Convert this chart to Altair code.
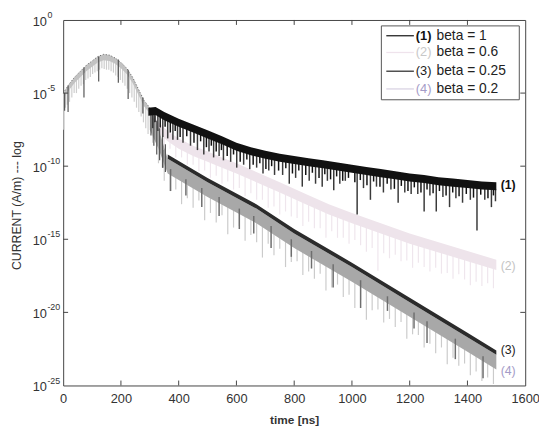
import altair as alt
import pandas as pd

# ---------------- data: log10 of current (A/m) vs time (ns) ----------------
# common rising part (all beta overlap)
common_t = [0, 10, 20, 40, 60, 80, 100, 120, 140, 160, 180, 200, 220, 240, 260, 280, 300]
common_hi = [-5.0, -4.7, -4.4, -3.9, -3.5, -3.1, -2.8, -2.5, -2.35, -2.4, -2.6, -2.9, -3.3, -3.9, -4.7, -5.5, -6.0]
common_lo = [-5.4, -5.1, -4.8, -4.3, -3.9, -3.5, -3.2, -2.9, -2.75, -2.8, -3.0, -3.3, -3.7, -4.3, -5.1, -5.9, -6.4]

common_spk_t = [2, 8, 14, 22, 30, 38, 46, 54, 62, 70, 78, 86, 94, 102, 110, 118, 126, 134, 142, 150,
                158, 166, 174, 182, 190, 198, 206, 214, 222, 230, 238, 246, 254, 262, 270, 278, 286, 294]
common_spk_top = [-5.0, -4.8, -4.6, -4.35, -4.15, -3.95, -3.8, -3.6, -3.45, -3.3, -3.15, -3.0, -2.9, -2.8,
                  -2.65, -2.55, -2.45, -2.4, -2.35, -2.35, -2.4, -2.45, -2.55, -2.6, -2.75, -2.9, -3.0,
                  -3.2, -3.35, -3.6, -3.85, -4.1, -4.45, -4.8, -5.1, -5.4, -5.7, -5.9]
common_spk_bot = [-7.5, -6.0, -5.8, -5.6, -5.3, -5.0, -5.0, -4.7, -4.5, -4.4, -4.1, -4.0, -3.9, -3.7,
                  -3.6, -3.5, -3.4, -3.3, -3.35, -3.4, -3.4, -3.5, -3.6, -3.8, -3.9, -4.1, -4.3, -4.5,
                  -4.7, -5.0, -5.3, -5.6, -6.0, -6.3, -6.6, -7.0, -7.4, -7.8]
common_dk_t = [5, 17, 72, 123, 191, 225, 276]
common_dk_top = [-5.0, -4.5, -3.25, -2.5, -2.7, -3.4, -5.3]
common_dk_bot = [-6.2, -6.3, -5.3, -4.2, -4.3, -5.4, -6.4]

# (1) beta = 1
s1_t = [295, 320, 350, 400, 450, 500, 550, 600, 650, 700, 750, 800, 850, 900, 950, 1000, 1050, 1100,
        1150, 1200, 1250, 1300, 1350, 1400, 1450, 1500]
s1_hi = [-6.0, -5.95, -6.3, -6.75, -7.15, -7.55, -7.95, -8.4, -8.7, -8.95, -9.15, -9.3, -9.45, -9.6,
         -9.75, -9.9, -10.05, -10.2, -10.35, -10.5, -10.6, -10.75, -10.85, -10.95, -11.05, -11.1]
s1_lo = [-6.55, -6.5, -6.85, -7.3, -7.7, -8.1, -8.5, -8.95, -9.25, -9.5, -9.7, -9.85, -10.0, -10.15,
         -10.3, -10.45, -10.6, -10.75, -10.9, -11.05, -11.15, -11.3, -11.4, -11.5, -11.6, -11.65]
s1_spk_t = [310, 328, 345, 362, 380, 396, 415, 441, 465, 487, 505, 521, 540, 555, 580, 601, 625, 646,
            670, 692, 712, 732, 760, 783, 805, 828, 852, 874, 897, 915, 937, 958, 977, 1018, 1040, 1064,
            1085, 1109, 1135, 1160, 1183, 1205, 1228, 1250, 1270, 1292, 1315, 1338, 1360, 1383, 1410,
            1433, 1460, 1483, 1497]
s1_spk_top = [-6.4, -6.5, -6.7, -6.9, -7.05, -7.2, -7.3, -7.5, -7.7, -7.9, -8.0, -8.15, -8.3, -8.45,
              -8.65, -8.85, -9.0, -9.1, -9.25, -9.35, -9.45, -9.5, -9.6, -9.7, -9.75, -9.85, -9.9, -9.95,
              -10.05, -10.1, -10.15, -10.2, -10.3, -10.4, -10.45, -10.5, -10.55, -10.65, -10.7, -10.8,
              -10.85, -10.95, -11.0, -11.05, -11.1, -11.2, -11.25, -11.3, -11.35, -11.4, -11.45, -11.45,
              -11.5, -11.55, -11.55]
s1_spk_bot = [-7.4, -7.6, -8.0, -8.1, -8.2, -8.2, -8.4, -8.6, -8.9, -9.2, -9.0, -9.4, -9.3, -9.6, -9.7,
              -10.1, -9.9, -10.2, -10.1, -10.5, -10.3, -10.6, -10.6, -11.2, -10.8, -11.4, -11.0, -11.2,
              -11.4, -11.0, -11.65, -11.2, -11.0, -13.3, -11.5, -12.3, -11.4, -11.8, -11.6, -12.5, -11.8,
              -11.9, -11.9, -13.1, -12.0, -13.1, -12.1, -12.8, -12.2, -12.5, -12.3, -14.4, -12.3, -12.8,
              -12.4]
s1_sm_t = [318, 336, 353, 371, 388, 405, 428, 453, 476, 496, 513, 530, 548, 568, 590, 613, 636, 658, 681,
           702, 722, 746, 771, 794, 816, 840, 863, 886, 906, 926, 947, 968, 988, 1010, 1029, 1052, 1075,
           1097, 1122, 1147, 1171, 1194, 1216, 1239, 1260, 1281, 1303, 1326, 1349, 1371, 1396, 1421,
           1446, 1471, 1490]
s1_sm_top = [-6.35, -6.55, -6.73, -6.9, -7.05, -7.2, -7.37, -7.57, -7.76, -7.92, -8.05, -8.2, -8.34, -8.5,
             -8.7, -8.88, -9.02, -9.14, -9.25, -9.36, -9.44, -9.53, -9.61, -9.68, -9.75, -9.82, -9.89,
             -9.96, -10.02, -10.08, -10.14, -10.2, -10.26, -10.33, -10.39, -10.46, -10.53, -10.59,
             -10.67, -10.74, -10.81, -10.88, -10.93, -10.98, -11.03, -11.09, -11.16, -11.2, -11.25,
             -11.29, -11.34, -11.39, -11.44, -11.47, -11.49]
s1_sm_bot = [-7.0, -7.35, -7.3, -7.7, -7.6, -8.0, -7.95, -8.4, -8.3, -8.7, -8.6, -9.0, -8.9, -9.3, -9.2,
             -9.7, -9.55, -9.9, -9.8, -10.2, -10.0, -10.3, -10.15, -10.5, -10.3, -10.6, -10.45, -10.8,
             -10.55, -10.9, -10.7, -11.0, -10.8, -11.1, -10.95, -11.3, -11.05, -11.4, -11.2, -11.55,
             -11.35, -11.7, -11.45, -11.8, -11.6, -11.85, -11.7, -12.0, -11.8, -12.05, -11.9, -12.15,
             -11.95, -12.2, -12.0]

# (2) beta = 0.6
s2_t = [300, 330, 362, 400, 450, 500, 550, 600, 669, 750, 840, 920, 1000, 1100, 1200, 1300, 1400, 1500]
s2_hi = [-6.3, -7.0, -7.6, -8.1, -8.6, -9.0, -9.4, -9.8, -10.4, -11.1, -11.9, -12.6, -13.2, -13.9,
         -14.6, -15.2, -15.8, -16.4]
s2_lo = [-7.0, -7.7, -8.3, -8.8, -9.3, -9.7, -10.1, -10.5, -11.1, -11.8, -12.6, -13.3, -13.9, -14.6,
         -15.3, -15.9, -16.5, -17.1]
s2_spk_t = [310, 330, 350, 370, 390, 410, 430, 450, 470, 490, 510, 530, 550, 570, 590, 610, 630, 650,
            670, 690, 710, 730, 750, 770, 790, 810, 830, 850, 870, 890, 910, 930, 950, 970, 990, 1010,
            1030, 1050, 1070, 1090, 1110, 1130, 1150, 1170, 1190, 1210, 1230, 1250, 1270, 1290, 1310,
            1330, 1350, 1370, 1390, 1410, 1430, 1450, 1470, 1490]
s2_spk_top = [-7.0, -7.5, -7.9, -8.2, -8.5, -8.7, -8.9, -9.1, -9.25, -9.4, -9.6, -9.75, -9.9, -10.05,
              -10.2, -10.4, -10.55, -10.75, -10.9, -11.1, -11.25, -11.45, -11.6, -11.8, -11.95, -12.15,
              -12.3, -12.5, -12.65, -12.85, -13.0, -13.15, -13.3, -13.5, -13.6, -13.75, -13.9, -14.05,
              -14.2, -14.35, -14.45, -14.6, -14.75, -14.9, -15.05, -15.15, -15.3, -15.4, -15.5, -15.65,
              -15.75, -15.9, -16.0, -16.1, -16.25, -16.35, -16.5, -16.6, -16.7, -16.85]
s2_spk_bot = [-7.5, -8.2, -8.7, -8.8, -9.4, -9.4, -9.9, -9.9, -10.35, -10.3, -10.8, -10.65, -11.2,
              -11.05, -11.6, -11.5, -12.05, -11.85, -12.3, -12.3, -12.85, -12.75, -13.3, -13.1, -13.45,
              -13.55, -14.1, -13.8, -14.25, -14.25, -14.9, -14.45, -14.9, -14.9, -15.3, -15.05, -15.4,
              -15.85, -15.6, -17.15, -15.95, -16.3, -16.05, -16.5, -16.45, -16.95, -16.6, -16.9, -17.2,
              -16.95, -17.35, -17.3, -17.7, -17.4, -17.75, -18.15, -17.9, -18.2, -18.0, -18.35]

# (3) beta = 0.25
s3_t = [362, 500, 669, 800, 1000, 1200, 1400, 1500]
s3_hi = [-9.2, -10.8, -12.6, -14.3, -16.6, -19.0, -21.4, -22.6]
s3_lo = [-9.5, -11.1, -12.9, -14.6, -16.9, -19.3, -21.7, -22.9]
s3_spk_t = [304, 314, 324, 334, 344, 354]
s3_spk_top = [-6.2, -6.5, -6.9, -7.4, -7.9, -8.5]
s3_spk_bot = [-7.9, -8.6, -9.2, -9.6, -10.1, -10.4]

# (4) beta = 0.2
s4_t = [300, 330, 362, 500, 669, 800, 1000, 1200, 1400, 1500]
s4_hi = [-6.2, -7.4, -9.5, -11.1, -12.9, -14.6, -16.9, -19.3, -21.7, -22.9]
s4_lo = [-7.5, -8.8, -10.5, -12.1, -13.9, -15.6, -17.9, -20.3, -22.7, -23.9]
s4_spk_t = [310, 330, 350, 370, 390, 410, 430, 450, 470, 490, 510, 530, 550, 570, 590, 610, 630, 650,
            670, 690, 710, 730, 750, 770, 790, 810, 830, 850, 870, 890, 910, 930, 950, 970, 990, 1010,
            1030, 1050, 1070, 1090, 1110, 1130, 1150, 1170, 1190, 1210, 1230, 1250, 1270, 1290, 1310,
            1330, 1350, 1370, 1390, 1410, 1430, 1450, 1470, 1490]
s4_spk_top = [-7.2, -8.0, -9.4, -10.3, -10.6, -10.8, -11.0, -11.25, -11.45, -11.7, -11.9, -12.15,
              -12.35, -12.55, -12.8, -13.0, -13.2, -13.4, -13.6, -13.85, -14.1, -14.4, -14.65, -14.9,
              -15.15, -15.4, -15.65, -15.9, -16.1, -16.35, -16.6, -16.8, -17.0, -17.25, -17.5, -17.7,
              -17.95, -18.2, -18.45, -18.7, -18.9, -19.15, -19.4, -19.65, -19.9, -20.1, -20.35, -20.6,
              -20.85, -21.1, -21.3, -21.55, -21.8, -22.05, -22.3, -22.5, -22.75, -23.0, -23.25, -23.5]
s4_spk_bot = [-8.4, -9.8, -11.0, -11.7, -11.6, -12.6, -12.2, -12.85, -12.35, -13.7, -13.2, -13.85,
              -13.35, -14.65, -14.2, -14.1, -15.1, -14.7, -15.2, -16.25, -15.3, -16.1, -15.65, -16.9,
              -16.55, -16.5, -17.45, -17.2, -17.7, -17.35, -18.5, -18.3, -18.1, -18.95, -18.8, -19.7,
              -19.15, -20.5, -19.85, -19.8, -20.7, -20.45, -21.0, -20.65, -21.8, -21.5, -21.55, -22.4,
              -22.15, -22.8, -22.4, -23.55, -23.1, -23.65, -23.5, -24.3, -24.05, -24.7, -24.45, -24.9]
s4_dk_t = [345, 372, 425, 480, 540, 610, 660, 720, 790, 860, 935, 1030, 1123, 1215, 1260, 1358, 1454]
s4_dk_top = [-8.9, -10.2, -10.9, -11.5, -12.1, -12.9, -13.4, -14.1, -15.0, -15.8, -16.7, -17.8, -18.9,
             -20.0, -20.6, -21.8, -23.0]
s4_dk_bot = [-10.1, -11.7, -12.0, -12.8, -13.4, -14.3, -14.6, -15.6, -16.2, -17.0, -18.3, -19.7, -19.9,
             -21.1, -22.1, -23.2, -24.5]

# end labels
end_labels = ["(1)", "(2)", "(3)", "(4)"]
end_t = [1515, 1515, 1515, 1515]
end_v = [-11.3, -16.8, -22.6, -24.0]
end_colors = ["#111111", "#c4c4c4", "#222222", "#a49cc8"]
end_weights = ["bold", "normal", "normal", "normal"]

# legend
leg_num = ["(1)", "(2)", "(3)", "(4)"]
leg_text = ["beta = 1", "beta = 0.6", "beta = 0.25", "beta = 0.2"]
leg_line_colors = ["#222222", "#efe3ec", "#333333", "#d9d2e3"]
leg_num_colors = ["#111111", "#c8c8c8", "#222222", "#a49cc8"]

x_ticks = [0, 200, 400, 600, 800, 1000, 1200, 1400, 1600]
y_ticks = [0, -5, -10, -15, -20, -25]

# ---------------- chart ----------------
W, H = 469, 371
FONT = "Liberation Sans"

xscale = alt.Scale(domain=[0, 1600], nice=False, zero=False)
yscale = alt.Scale(domain=[-25, 0], nice=False, zero=False)
x_axis = alt.Axis(values=x_ticks, format="d", title="time [ns]", grid=False, ticks=False, tickSize=0,
                  domain=False, labelPadding=7, labelFlush=False, labelOverlap=False, labelFontSize=13,
                  labelColor="#333333", labelFont=FONT, titleFont=FONT, titleFontSize=12,
                  titleFontWeight="bold", titleColor="#333333", titleY=35, titleBaseline="middle")
y_axis = alt.Axis(values=y_ticks, labels=False, grid=False, ticks=False, tickSize=0, domain=False,
                  title="CURRENT (A/m) --- log", titleFont=FONT, titleFontSize=12.5,
                  titleFontWeight="normal", titleColor="#333333", titleX=-47, titleY=188,
                  titleAngle=-90, titleAlign="center", titleBaseline="middle")


def X(f="t"):
    return alt.X(f, type="quantitative", scale=xscale, axis=x_axis)


def Y(f):
    return alt.Y(f, type="quantitative", scale=yscale, axis=y_axis)


def band(t, hi, lo, color):
    df = pd.DataFrame({"t": t, "hi": hi, "lo": lo})
    return alt.Chart(df).mark_area(color=color, opacity=1).encode(x=X(), y=Y("hi"), y2="lo")


def spikes(t, top, bot, color, width=1.0):
    df = pd.DataFrame({"t": t, "top": top, "bot": bot})
    return alt.Chart(df).mark_rule(color=color, strokeWidth=width).encode(x=X(), y=Y("top"), y2="bot")


layers = []
# common rising part
layers.append(spikes(common_spk_t, common_spk_top, common_spk_bot, "#cdcdcd", 1.2))
layers.append(band(common_t, common_hi, common_lo, "#c2c2c2"))
layers.append(alt.Chart(pd.DataFrame({"t": common_t, "hi": common_hi})).mark_line(
    color="#666666", strokeWidth=1, strokeDash=[1, 2]).encode(x=X(), y=Y("hi")))
layers.append(spikes(common_dk_t, common_dk_top, common_dk_bot, "#555555", 1.2))
# (2)
layers.append(spikes(s2_spk_t, s2_spk_top, s2_spk_bot, "#efe6ed", 1.2))
layers.append(band(s2_t, s2_hi, s2_lo, "#eee4eb"))
# (4)
layers.append(spikes(s4_spk_t, s4_spk_top, s4_spk_bot, "#cbcbcb", 1.2))
layers.append(band(s4_t, s4_hi, s4_lo, "#a8a8a8"))
layers.append(spikes(s4_dk_t, s4_dk_top, s4_dk_bot, "#6e6e6e", 1.5))
# (3)
layers.append(spikes(s3_spk_t, s3_spk_top, s3_spk_bot, "#555555", 1.2))
layers.append(band(s3_t, s3_hi, s3_lo, "#2b2b2b"))
# (1)
layers.append(spikes(s1_spk_t, s1_spk_top, s1_spk_bot, "#3a3a3a", 1.5))
layers.append(spikes(s1_sm_t, s1_sm_top, s1_sm_bot, "#111111", 1.5))
layers.append(band(s1_t, s1_hi, s1_lo, "#111111"))

# end labels
for lab, t, v, c, w in zip(end_labels, end_t, end_v, end_colors, end_weights):
    df = pd.DataFrame({"t": [t], "v": [v], "lab": [lab]})
    layers.append(alt.Chart(df).mark_text(align="left", baseline="middle", font=FONT, fontSize=12.5,
                                          fontWeight=w, color=c).encode(x=X(), y=Y("v"), text="lab"))

# inward ticks (MATLAB-style box)
xt = pd.DataFrame({"t": x_ticks[1:-1]})
layers.append(alt.Chart(xt).mark_rule(color="#444444").encode(x=X(), y=alt.value(H), y2=alt.value(H - 5)))
layers.append(alt.Chart(xt).mark_rule(color="#444444").encode(x=X(), y=alt.value(0), y2=alt.value(5)))
yt = pd.DataFrame({"v": y_ticks[1:-1]})
layers.append(alt.Chart(yt).mark_rule(color="#444444").encode(y=Y("v"), x=alt.value(0), x2=alt.value(5)))
layers.append(alt.Chart(yt).mark_rule(color="#444444").encode(y=Y("v"), x=alt.value(W), x2=alt.value(W - 5)))

# y tick labels as 10^n
ylab = pd.DataFrame({"v": y_ticks, "base": ["10"] * len(y_ticks), "exp": [str(v) for v in y_ticks]})
layers.append(alt.Chart(ylab).mark_text(align="left", baseline="middle", font=FONT, fontSize=13,
                                        color="#333333", dy=2).encode(
    y=Y("v"), x=alt.value(-31), text="base"))
layers.append(alt.Chart(ylab).mark_text(align="left", baseline="middle", font=FONT, fontSize=9,
                                        color="#333333", dy=-5).encode(
    y=Y("v"), x=alt.value(-16), text="exp"))

# legend box
one = pd.DataFrame({"k": [0]})
layers.append(alt.Chart(one).mark_rect(fill="white", stroke="#555555", strokeWidth=1).encode(
    x=alt.value(323), x2=alt.value(463), y=alt.value(6), y2=alt.value(81)))
row_y = [16, 33, 52, 70]
for i in range(4):
    layers.append(alt.Chart(one).mark_rule(color=leg_line_colors[i], strokeWidth=1.3).encode(
        x=alt.value(328), x2=alt.value(356), y=alt.value(row_y[i])))
    layers.append(alt.Chart(one).mark_text(align="left", baseline="middle", font=FONT, fontSize=13,
                                           fontWeight="bold" if i == 0 else "normal",
                                           color=leg_num_colors[i]).encode(
        x=alt.value(358), y=alt.value(row_y[i]), text=alt.value(leg_num[i])))
    layers.append(alt.Chart(one).mark_text(align="left", baseline="middle", font=FONT, fontSize=14,
                                           color="#222222").encode(
        x=alt.value(379), y=alt.value(row_y[i]), text=alt.value(leg_text[i])))

chart = alt.layer(*layers).properties(
    width=W, height=H,
    autosize=alt.AutoSizeParams(type="none"),
    padding={"left": 56, "top": 9, "right": 14, "bottom": 40},
).configure_view(stroke="#444444", strokeWidth=1)

chart.save("out.html", embed_options={"renderer": "svg", "actions": False})
